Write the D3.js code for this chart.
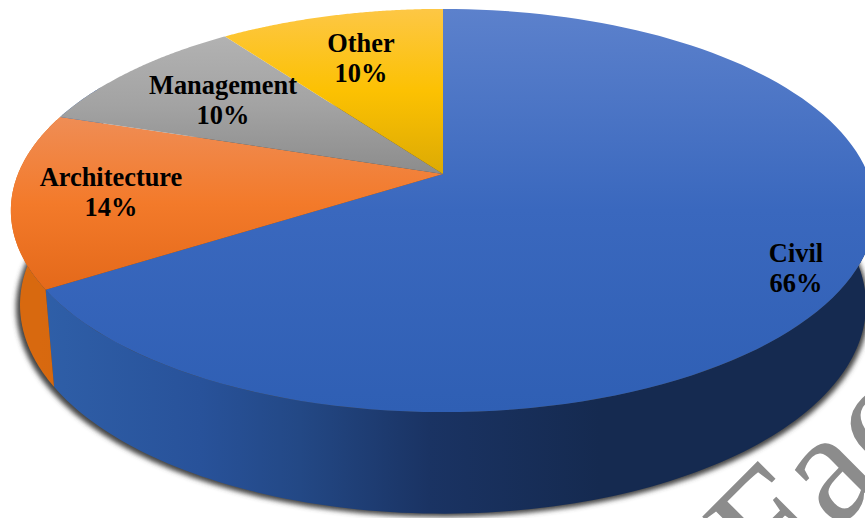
<!DOCTYPE html>
<html>
<head>
<meta charset="utf-8">
<script src="https://cdn.jsdelivr.net/npm/d3@7/dist/d3.min.js"></script>
<style>
  html, body { margin: 0; padding: 0; background: #fff; }
  svg { display: block; }
  text { font-family: "Liberation Serif", serif; }
</style>
</head>
<body>
<svg id="chart" width="865" height="518"></svg>
<script>
// Share of graduates by field, clockwise from twelve o'clock
const categories = ["Civil", "Architecture", "Management", "Other"];
const shares = [66, 14, 10, 10];
const topColors = [["#5c81cc", "#3a68be", "#2f5fb4"], ["#ef8d55", "#f37a2a", "#e4691a"], ["#b2b2b2", "#a3a3a3", "#8c8c8c"], ["#fdc745", "#fcc102", "#dcaa04"]];
const wallStops = [["#2f5fa8", "#28529a", "#234885", "#1a3363", "#152a50"], ["#d8690f", "#c9620f", "#c9620f", "#c9620f", "#c9620f"]];
const wallStopX = [40, 200, 300, 430, 600];
const labelAnchors = [[796, 262], [111, 186], [223, 94], [361, 52]];
const watermarkText = "Fac";

const svg = d3.select("#chart");
const defs = svg.append("defs");
const width = 865, height = 518;

// Perspective projection of the tilted disc: upper and lower faces
const persp = 0.181;
const upperFace = { cx: 443, cy: 174, kx: 425, ky: 195 };
const lowerFace = { cx: 443, cy: 267, kx: 416, ky: 202 };
const project = (face, a) => {
  const X = Math.sin(a), Y = Math.cos(a), w = 1 + persp * Y;
  return [face.cx + face.kx * X / w, face.cy - face.ky * Y / w];
};

const pie = d3.pie().sort(null).value(d => d);
const arcs = pie(shares);
const line = d3.line();
const arcAngles = (a0, a1) => d3.range(0, 121).map(i => a0 + (a1 - a0) * i / 120);

// Watermark behind the chart
svg.append("text")
  .attr("transform", "translate(773,594) rotate(-45)")
  .attr("font-size", 160)
  .attr("fill", "#8c8c8c")
  .text(watermarkText);

// Soft drop shadow under the lower rim
defs.append("filter").attr("id", "rimShadow")
  .attr("x", "-10%").attr("y", "-10%").attr("width", "120%").attr("height", "120%")
  .append("feGaussianBlur").attr("stdDeviation", 2.5);
svg.append("path")
  .attr("d", line(arcAngles(0, 2 * Math.PI).map(a => {
    const p = project(lowerFace, a);
    return [p[0] + (p[0] > 443 ? 3 : -4), p[1] + 3];
  })) + "Z")
  .attr("fill", "#444")
  .attr("filter", "url(#rimShadow)");

// Side wall, only the part facing the viewer
arcs.forEach((d, i) => {
  const start = Math.max(d.startAngle, Math.PI * 0.5);
  const end = Math.min(d.endAngle, Math.PI * 1.66);
  if (end <= start) return;
  const angles = arcAngles(start, end);
  const outline = angles.map(a => project(upperFace, a))
    .concat(angles.slice().reverse().map(a => project(lowerFace, a)));
  const id = "wall" + i;
  const grad = defs.append("linearGradient").attr("id", id)
    .attr("gradientUnits", "userSpaceOnUse")
    .attr("x1", 0).attr("x2", width).attr("y1", 0).attr("y2", 0);
  (wallStops[i] || wallStops[0]).forEach((c, j) => {
    grad.append("stop").attr("offset", wallStopX[j] / width).attr("stop-color", c);
  });
  svg.append("path").attr("d", line(outline) + "Z").attr("fill", `url(#${id})`);
});

// Lit top face, each slice with its own vertical gradient
arcs.forEach((d, i) => {
  const outline = arcAngles(d.startAngle, d.endAngle).map(a => project(upperFace, a));
  outline.unshift([upperFace.cx, upperFace.cy]);
  const id = "face" + i;
  const grad = defs.append("linearGradient").attr("id", id)
    .attr("x1", 0).attr("x2", 0).attr("y1", 0).attr("y2", 1);
  topColors[i].forEach((c, j) => {
    grad.append("stop").attr("offset", j / 2).attr("stop-color", c);
  });
  svg.append("path").attr("d", line(outline) + "Z").attr("fill", `url(#${id})`);
});

// Two-line category and share labels
categories.forEach((name, i) => {
  const [x, y] = labelAnchors[i];
  const label = svg.append("text")
    .attr("text-anchor", "middle")
    .attr("font-size", 26.4)
    .attr("font-weight", "bold")
    .attr("fill", "#000");
  label.append("tspan").attr("x", x).attr("y", y).text(name);
  label.append("tspan").attr("x", x).attr("y", y + 30).text(shares[i] + "%");
});
</script>
</body>
</html>
